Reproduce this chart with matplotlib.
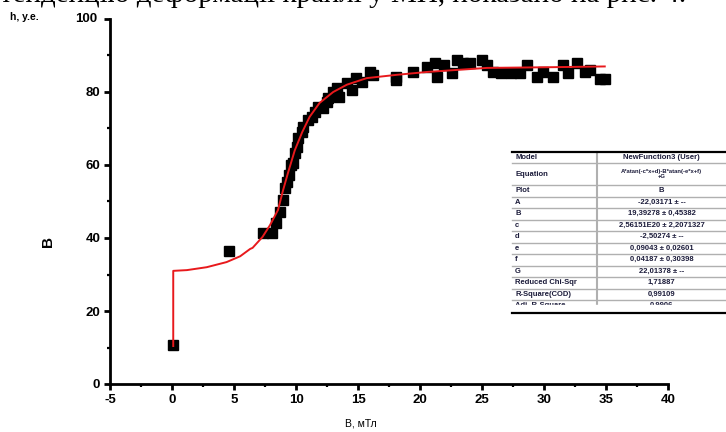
import matplotlib
matplotlib.use("Agg")
import matplotlib.pyplot as plt
import numpy as np

plt.rcParams['font.family'] = ['Liberation Sans', 'DejaVu Sans']
plt.rcParams['axes.unicode_minus'] = False

# measured points (B, mT ; h, a.u.)
x_pts = [0.1, 4.6, 7.3, 8.1, 8.4, 8.7, 8.95, 9.1, 9.3, 9.45, 9.6, 9.75, 9.9, 10.1,
         10.2, 10.5, 10.6, 11.0, 11.3, 11.5, 11.8, 12.2, 12.5, 12.6, 13.0, 13.3,
         13.5, 14.1, 14.5, 14.8, 15.3, 16.0, 16.2, 18.1, 18.1, 19.4, 20.6, 21.2,
         21.4, 21.9, 22.6, 23.0, 23.5, 24.0, 25.0, 25.4, 25.9, 26.5, 27.3, 28.1,
         28.6, 29.4, 29.9, 30.7, 31.5, 31.9, 32.7, 33.3, 33.7, 34.5, 34.9]
y_pts = [10.7, 36.4, 41.4, 41.4, 44.0, 47.0, 50.4, 53.7, 55.3, 57.3, 60.0, 60.5, 63.3, 65.0,
         67.4, 69.0, 70.4, 72.3, 73.2, 74.5, 75.9, 75.6, 77.3, 78.4, 80.0, 81.0,
         78.6, 82.5, 80.5, 83.8, 82.7, 85.5, 84.7, 84.0, 83.3, 85.5, 86.8, 88.0,
         84.0, 87.4, 85.2, 88.8, 87.9, 87.9, 88.8, 87.4, 85.5, 85.2, 85.2, 85.2,
         87.4, 84.0, 85.5, 84.0, 87.4, 85.2, 87.9, 85.5, 86.0, 83.6, 83.6]

# fitted curve
x_fit = [0.1, 0.1, 1.2, 2.8, 4.4, 5.5, 6.3, 6.5, 7.3, 7.9, 8.55, 8.95, 9.35, 9.9,
         10.5, 11.1, 11.9, 13.0, 14.1, 15.7, 18.1, 20.6, 25.4, 30.7, 34.9]
y_fit = [10.4, 31.0, 31.2, 32.0, 33.4, 35.0, 37.0, 37.3, 40.3, 43.5, 47.7, 53.0, 57.8, 64.0,
         69.0, 73.2, 77.0, 80.0, 82.0, 83.8, 84.7, 85.5, 86.6, 86.8, 87.0]

table_names = ['Model', 'Equation', 'Plot', 'A', 'B', 'c', 'd', 'e', 'f', 'G',
               'Reduced Chi-Sqr', 'R-Square(COD)', 'Adj. R-Square']
table_values = ['NewFunction3 (User)', 'A*atan(-c*x+d)-B*atan(-e*x+f)\n+G', 'B',
                '-22,03171 \u00b1 --', '19,39278 \u00b1 0,45382',
                '2,56151E20 \u00b1 2,2071327', '-2,50274 \u00b1 --',
                '0,09043 \u00b1 0,02601', '0,04187 \u00b1 0,30398',
                '22,01378 \u00b1 --', '1,71887', '0,99109', '0,9906']

W, H = 726, 432
fig = plt.figure(figsize=(W / 100, H / 100), dpi=100)

ax = fig.add_axes([110 / W, 1 - 384 / H, 558 / W, 365 / H])
ax.plot(x_fit, y_fit, color='#e8191c', lw=1.4, zorder=3)
ax.plot(x_pts, y_pts, 's', color='black', ms=7.5, zorder=2)
ax.set_xlim(-5, 40)
ax.set_ylim(0, 100)
ax.set_xticks(np.arange(-5, 41, 5))
ax.set_xticks(np.arange(-5, 40, 2.5), minor=True)
ax.set_yticks(np.arange(0, 101, 20))
ax.set_yticks(np.arange(10, 100, 20), minor=True)
ax.set_yticklabels(['0', '20', '40', '60', '80', ''])
for s in ['top', 'right']:
    ax.spines[s].set_visible(False)
for s in ['left', 'bottom']:
    ax.spines[s].set_linewidth(2.0)
ax.tick_params(which='major', direction='out', length=4.5, width=2.0,
               labelsize=9.5, pad=2.5)
ax.tick_params(which='minor', direction='out', length=2.5, width=1.6)
for lab in ax.get_xticklabels() + ax.get_yticklabels():
    lab.set_fontweight('bold')

ax.set_xlabel('В, мТл', fontsize=7.5)
ax.xaxis.set_label_coords(0.45, -0.095)
ax.set_ylabel('В', fontsize=11, fontweight='bold')
ax.yaxis.set_label_coords(-0.098, 0.39)

# overlay in pixel coordinates
ov = fig.add_axes([0, 0, 1, 1], zorder=5)
ov.set_xlim(0, W)
ov.set_ylim(H, 0)
ov.axis('off')

ov.text(0, 1.5, 'тенденцію деформації краплі у МП, показано на рис. 4.',
        family='Liberation Serif', fontsize=21, va='baseline', ha='left')
ov.text(10, 17, 'h, у.е.', fontsize=7.5, fontweight='bold', va='center', ha='left')
ov.text(97, 19, '100', fontsize=9.5, fontweight='bold', va='center', ha='right')

# fit parameter table
tx0, tx1, tdiv = 512, 726, 597
edges = [152, 163, 185, 196.5, 208, 219.5, 231, 242.5, 254, 265.5, 277, 288.5, 300, 311.5]
ov.add_patch(plt.Rectangle((tx0, 152), tx1 - tx0, 161, color='white', zorder=1))
tcol = '#1b1b3a'
for i, (name, val) in enumerate(zip(table_names, table_values)):
    yc = (edges[i] + edges[i + 1]) / 2
    ov.text(tx0 + 3, yc, name, fontsize=5.5, fontweight='bold', color=tcol,
            va='center', ha='left', zorder=2)
    fs = 4.2 if name == 'Equation' else 5.5
    ov.text((tdiv + tx1) / 2, yc, val, fontsize=fs, fontweight='bold', color=tcol,
            va='center', ha='center', linespacing=1.0, zorder=2)
for e in edges[1:-1]:
    ov.plot([tx0, tx1], [e, e], color='#b0b0b0', lw=1.0, zorder=2)
ov.plot([tdiv, tdiv], [152, 305], color='#b0b0b0', lw=1.5, zorder=2)
ov.add_patch(plt.Rectangle((tx0, 305), tx1 - tx0, 8, color='white', zorder=3))
ov.plot([tx0, tx1], [152, 152], color='black', lw=1.6, zorder=4)
ov.plot([tx0, tx1], [313, 313], color='black', lw=1.6, zorder=4)

fig.savefig('out.png', dpi=100)
